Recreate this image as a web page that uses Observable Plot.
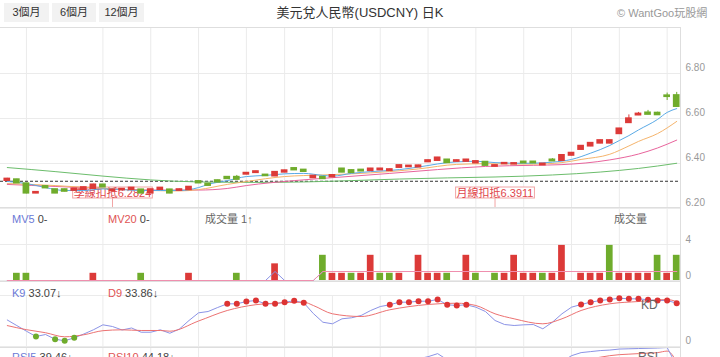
<!DOCTYPE html>
<html><head><meta charset="utf-8">
<script src="https://cdn.jsdelivr.net/npm/d3@7"></script>
<script src="https://cdn.jsdelivr.net/npm/@observablehq/plot@0.6"></script>
<style>
html,body{margin:0;padding:0;background:#fff;overflow:hidden;}
#wrap{position:relative;width:720px;height:357px;overflow:hidden;font-family:"Liberation Sans","Noto Sans CJK TC",sans-serif;}
.btn{position:absolute;top:3px;height:19px;line-height:19px;background:#f2f2f2;color:#333;font-size:11px;text-align:center;}
#title{position:absolute;top:5px;left:0;width:720px;text-align:center;font-size:13px;line-height:16px;color:#333;}
#copy{position:absolute;top:7px;left:617px;font-size:11px;line-height:13px;color:#999;}
.panel{position:absolute;left:0;}
.hl{position:absolute;left:0;width:681px;height:1px;background:#dedede;}
.vl{position:absolute;left:680px;width:1px;top:27px;height:330px;background:#dedede;}
.lbl{position:absolute;font-size:11px;line-height:14px;white-space:nowrap;color:#444;}
.blue{color:#6b79d6;} .red{color:#e05454;} .gray{color:#666;}
</style></head>
<body>
<div id="wrap">
  <div class="btn" style="left:4px;width:45px">3個月</div>
  <div class="btn" style="left:52px;width:44px">6個月</div>
  <div class="btn" style="left:99px;width:45px">12個月</div>
  <div id="title">美元兌人民幣(USDCNY) 日K</div>
  <div id="copy">© WantGoo玩股網</div>
  <div class="panel" id="pMain" style="top:27px"></div>
  <div class="panel" id="pVol" style="top:208px"></div>
  <div class="panel" id="pKD" style="top:281px"></div>
  <div class="panel" id="pRSI" style="top:347px"></div>
  <div class="hl" style="top:27px"></div>
  <div class="hl" style="top:207px"></div>
  <div class="hl" style="top:281px"></div>
  <div class="hl" style="top:347px"></div>
  <div class="vl"></div>
  <div class="lbl" style="left:12px;top:212px"><span class="blue">MV5</span> 0-</div>
  <div class="lbl" style="left:108px;top:212px"><span class="red">MV20</span> 0-</div>
  <div class="lbl gray" style="left:205px;top:212px">成交量 1↑</div>
  <div class="lbl gray" style="left:614px;top:212px">成交量</div>
  <div class="lbl" style="left:12px;top:286px"><span class="blue">K9</span> 33.07↓</div>
  <div class="lbl" style="left:108px;top:286px"><span class="red">D9</span> 33.86↓</div>
  <div class="lbl gray" style="left:641px;top:298px;font-size:12px">KD</div>
  <div class="lbl" style="left:12px;top:350px"><span class="blue">RSI5</span> 39.46↓</div>
  <div class="lbl" style="left:108px;top:350px"><span class="red">RSI10</span> 44.18↓</div>
  <div class="lbl gray" style="left:638px;top:350px;font-size:12px">RSI</div>
</div>
<script>
// ---------- data ----------
const opens  = [6.324,6.328,6.310,6.268,6.298,6.284,6.284,6.280,6.284,6.288,6.305,6.278,6.282,6.284,6.283,6.268,6.284,6.283,6.280,6.283,
                6.320,6.309,6.324,6.339,6.339,6.352,6.359,6.349,6.344,6.361,6.378,6.371,6.336,6.339,6.340,6.376,6.369,6.371,6.368,6.371,
                6.368,6.382,6.385,6.384,6.407,6.413,6.416,6.409,6.409,6.402,6.406,6.387,6.398,6.397,6.407,6.407,6.393,6.416,6.413,6.436,
                6.462,6.477,6.490,6.490,6.532,6.581,6.615,6.625,6.624,6.701,6.702];
const closes = [6.331,6.313,6.268,6.272,6.291,6.268,6.276,6.287,6.293,6.305,6.295,6.2824,6.286,6.291,6.268,6.284,6.291,6.268,6.284,6.295,
                6.313,6.302,6.317,6.332,6.329,6.357,6.364,6.345,6.361,6.368,6.371,6.364,6.344,6.332,6.347,6.361,6.359,6.366,6.376,6.376,
                6.373,6.391,6.389,6.390,6.413,6.425,6.403,6.413,6.416,6.409,6.391,6.3911,6.401,6.400,6.402,6.402,6.398,6.411,6.436,6.446,
                6.477,6.490,6.502,6.502,6.554,6.599,6.620,6.618,6.616,6.697,6.653];
const highs  = [6.334,6.330,6.312,6.274,6.300,6.286,6.286,6.289,6.295,6.308,6.307,6.285,6.288,6.293,6.285,6.286,6.293,6.285,6.286,6.297,
                6.322,6.311,6.326,6.341,6.347,6.359,6.366,6.351,6.363,6.370,6.380,6.373,6.346,6.341,6.349,6.378,6.371,6.373,6.378,6.378,
                6.375,6.393,6.391,6.392,6.415,6.427,6.418,6.415,6.418,6.411,6.408,6.393,6.403,6.402,6.409,6.409,6.400,6.422,6.438,6.448,
                6.479,6.492,6.504,6.504,6.556,6.616,6.627,6.636,6.628,6.713,6.716];
const lows   = [6.322,6.311,6.265,6.266,6.289,6.266,6.274,6.278,6.282,6.286,6.293,6.276,6.280,6.282,6.266,6.266,6.282,6.266,6.278,6.281,
                6.311,6.300,6.315,6.330,6.327,6.350,6.357,6.343,6.342,6.359,6.369,6.362,6.334,6.330,6.338,6.359,6.357,6.364,6.366,6.369,
                6.366,6.380,6.383,6.382,6.405,6.411,6.401,6.407,6.407,6.400,6.389,6.385,6.396,6.395,6.400,6.400,6.391,6.409,6.411,6.434,
                6.460,6.475,6.488,6.488,6.530,6.579,6.613,6.616,6.614,6.680,6.650];

const ma5  = [[0,6.320],[2,6.311],[4,6.293],[6,6.280],[8,6.280],[10,6.287],[12,6.284],[14,6.280],[16,6.280],[18,6.280],[20,6.293],[21,6.307],
              [23,6.324],[25,6.342],[27,6.347],[29,6.354],[31,6.356],[33,6.347],[34,6.344],[36,6.356],[38,6.364],[40,6.369],[42,6.378],
              [44,6.391],[46,6.404],[48,6.409],[49,6.410],[51,6.404],[54,6.401],[56,6.403],[57,6.406],[59,6.418],[61,6.446],[63,6.480],
              [64,6.502],[65,6.524],[66,6.549],[68,6.596],[69,6.627],[70,6.644]];
const ma10 = [[0,6.311],[5,6.302],[10,6.289],[15,6.280],[18,6.278],[20,6.284],[23,6.307],[25,6.320],[29,6.342],[33,6.349],[36,6.354],
              [40,6.364],[43,6.376],[47,6.396],[50,6.399],[55,6.397],[58,6.404],[60,6.418],[63,6.441],[65,6.478],[66,6.498],[68,6.533],[70,6.587]];
const ma20 = [[0,6.307],[5,6.298],[10,6.289],[15,6.282],[20,6.282],[23,6.289],[25,6.302],[30,6.324],[35,6.340],[40,6.356],[45,6.373],
              [50,6.387],[55,6.392],[58,6.395],[63,6.416],[66,6.442],[68,6.469],[70,6.504]];
const ma60 = [[0,6.382],[5,6.364],[10,6.344],[15,6.327],[20,6.318],[26,6.316],[31,6.318],[36,6.324],[41,6.331],[46,6.336],[51,6.340],
              [57,6.349],[62,6.362],[66,6.378],[70,6.401]];
const refPrice = 6.321;
const annoIdx = [11, 51];
const annoText = ["季線扣抵6.2824", "月線扣抵6.3911"];
const priceTicks = [6.2, 6.4, 6.6, 6.8];
const gridIdx = [2, 10, 15, 20, 25, 29, 34, 39, 44, 49, 54, 59, 64, 69];

const volIdx = [1,2,9,14,19,24,28,33,34,35,36,37,38,39,40,41,43,44,45,46,48,49,51,52,53,54,55,56,57,58,60,61,62,63,64,65,66,67,68,69,70];
const volVal = [0.8,0.8,0.8,0.8,0.8,0.8,1.85,2.8,0.8,0.8,0.8,0.8,2.8,0.8,0.8,0.8,2.8,0.8,0.8,0.8,2.8,0.8,0.8,0.8,2.8,0.8,0.8,0.8,0.8,3.9,
                0.8,0.8,0.8,3.9,0.8,0.8,0.8,0.8,2.8,0.8,2.8];
const volDir = ["g","g","r","g","r","g","r","g","r","r","g","r","r","g","g","r","r","r","r","g","r","g","g","r","r","r","r","g","r","r",
                "r","r","r","g","r","r","r","r","g","r","g"];
const mv5  = [[0,0],[27,0],[28,1],[29,0],[32,0],[33,1],[70,1]];
const mv20 = [[0,0],[32,0],[33,1],[70,1]];
const volTicks = [0, 4];

const kVals = [52,41,30,19.6,23.5,14.3,11.2,17,24.5,32.7,42.5,39.2,32.4,36.3,28,28,32.7,26,34.3,51,
               66,68.6,76.5,83.7,83.7,88.2,90.2,83.7,83.7,86.9,89.6,85.7,64.7,47.6,44.5,54.3,56.3,60.8,70.6,78.4,
               81.8,86.9,86.9,88.8,88.8,92.2,81.8,80.4,81.8,77.1,68.6,51,43.1,41.2,42.5,43.1,34.7,47.6,64.1,77.1,
               82.4,86.9,90.2,92.2,94.7,93.5,93.5,91.6,90.2,90.2,84.9];
const dPts = [[0,41],[2,33],[4,27],[6,19],[8,23],[10,31],[12,32.7],[14,31.4],[16,31.4],[17,30],[20,50],[23,70.6],[26,82],[28,84.9],
              [31,86.9],[32,80.4],[34,64.1],[37,58.8],[40,72],[44,82.4],[47,84.9],[49,80.4],[51,64.1],[53,54.3],[56,44.5],[58,54.3],
              [60,70.6],[63,83.7],[66,88.2],[69,92],[70,88]];
const rsi5  = [[0,45],[5,30],[10,50],[15,40],[20,62],[25,72],[30,70],[35,55],[40,72],[43,76],[44,80],[45,86],[46,74],[50,55],[55,50],
               [58,70],[59,82],[60,88],[61,90],[62,92],[63,93],[64,95],[65,95.5],[66,96],[67,96.5],[68,97],[69,98],[70,62]];
const rsi10 = [[0,48],[10,45],[20,55],[30,65],[40,66],[45,72],[50,60],[55,55],[58,62],[60,72],[61,76],[62,79],[63,82],[64,84],[65,85],
               [66,86],[67,87],[68,88],[69,91],[70,70]];

// ---------- style ----------
const RED = "#dc3a38", GREEN = "#6fac2c", GRID = "#ebebeb";
const C_MA5 = "#5aaae6", C_MA10 = "#f5b46c", C_MA20 = "#e8649c", C_MA60 = "#6cbd6c";
const C_K = "#8b93e6", C_D = "#ec7272";

const candles = opens.map((o, i) => ({i, o, c: closes[i], h: highs[i], l: lows[i]}));
const vols = volIdx.map((i, k) => ({i, v: volVal[k], d: volDir[k]}));
const kd = kVals.map((k, i) => ({i, k}));
const annos = annoIdx.map((i, k) => ({i, label: annoText[k]}));
const HW = 0.35;

const common = {
  width: 720, marginLeft: 0, marginRight: 39,
  x: {domain: [-0.71, 70.5], axis: null},
  color: {type: "identity"},
  style: {fontFamily: "Liberation Sans, Noto Sans CJK TC, sans-serif", fontSize: "10px", background: "transparent", overflow: "visible"}
};
const rightLabels = (ticks, fmt, dy) => Plot.text(ticks, {y: d => d, text: fmt, frameAnchor: "right", textAnchor: "start", dx: 4, dy, fill: "#999", fontSize: 10});
const ln = (data, stroke, curve) => Plot.line(data, {x: d => d[0], y: d => d[1], stroke, strokeWidth: 1, curve: curve || "linear"});

const main = Plot.plot({
  ...common, height: 181, marginTop: 0, marginBottom: 0,
  y: {domain: [6.2, 7.0044], axis: null},
  marks: [
    Plot.ruleY(priceTicks, {stroke: GRID}),
    Plot.ruleX(gridIdx, {stroke: GRID}),
    rightLabels(priceTicks, d => d.toFixed(2), -6),
    Plot.text(annos, {x: "i", text: "label", frameAnchor: "bottom", dy: -11.5, fill: "#e0464b", fontSize: 11}),
    Plot.ruleY([refPrice], {stroke: "#333", strokeDasharray: "3,2"}),
    ln(ma60, C_MA60, "monotone-x"),
    ln(ma20, C_MA20, "monotone-x"),
    ln(ma10, C_MA10, "monotone-x"),
    ln(ma5, C_MA5, "monotone-x"),
    Plot.ruleX(candles, {x: "i", y1: "l", y2: "h", stroke: d => d.c >= d.o ? RED : GREEN}),
    Plot.rect(candles, {x1: d => d.i - HW, x2: d => d.i + HW, y1: d => Math.min(d.o, d.c), y2: d => Math.max(d.o, d.c),
                        insetTop: -0.9, insetBottom: -0.9, fill: d => d.c >= d.o ? RED : GREEN})
  ]
});

const vol = Plot.plot({
  ...common, height: 73, marginTop: 0, marginBottom: 1,
  y: {domain: [0, 8], axis: null},
  marks: [
    Plot.ruleY(volTicks, {stroke: GRID}),
    Plot.ruleX(gridIdx, {stroke: GRID}),
    rightLabels(volTicks, d => String(d), -5),
    Plot.rect(vols, {x1: d => d.i - HW, x2: d => d.i + HW, y1: 0, y2: "v", fill: d => d.d === "r" ? RED : GREEN}),
    ln(mv5, "#8b93e6"),
    ln(mv20, "#ef8fae")
  ]
});

const kdPlot = Plot.plot({
  ...common, height: 66, marginTop: 14, marginBottom: 1,
  y: {domain: [0, 100], axis: null},
  marks: [
    Plot.ruleY([0, 100], {stroke: GRID}),
    Plot.ruleX(gridIdx, {stroke: GRID}),
    rightLabels([0], d => String(d), -6),
    Plot.line(kd, {x: "i", y: "k", stroke: C_K, strokeWidth: 1}),
    ln(dPts, C_D, "monotone-x"),
    Plot.dot(kd.filter(d => d.k > 80), {x: "i", y: "k", r: 3, fill: "#dd3333"}),
    Plot.dot(kd.filter(d => d.k < 20), {x: "i", y: "k", r: 3, fill: "#6fac2c"})
  ]
});

const rsiPlot = Plot.plot({
  ...common, height: 60, marginTop: 0, marginBottom: 0,
  y: {domain: [0, 100], range: [50, -1], axis: null},
  marks: [
    Plot.ruleX(gridIdx, {stroke: GRID}),
    ln(rsi10, C_D, "monotone-x"),
    ln(rsi5, C_K)
  ]
});

document.getElementById("pMain").appendChild(main);
document.getElementById("pVol").appendChild(vol);
document.getElementById("pKD").appendChild(kdPlot);
document.getElementById("pRSI").appendChild(rsiPlot);

// boxes behind the deduction labels
(function boxes(svg) {
  const ns = "http://www.w3.org/2000/svg";
  const sr = svg.getBoundingClientRect();
  svg.querySelectorAll("text").forEach(t => {
    if (!t.textContent.includes("扣抵")) return;
    const r = t.getBoundingClientRect();
    let g = t; while (g.parentNode && g.parentNode !== svg) g = g.parentNode;
    const x = r.left - sr.left - 1, w = r.width + 2, cy = r.top - sr.top + r.height / 2;
    const rect = document.createElementNS(ns, "rect");
    rect.setAttribute("x", x); rect.setAttribute("y", cy - 5.5);
    rect.setAttribute("width", w); rect.setAttribute("height", 11);
    rect.setAttribute("fill", "#fff"); rect.setAttribute("stroke", "#f2a5a5");
    const line = document.createElementNS(ns, "line");
    line.setAttribute("x1", x + w / 2); line.setAttribute("x2", x + w / 2);
    line.setAttribute("y1", cy + 5.5); line.setAttribute("y2", 181);
    line.setAttribute("stroke", "#f2a5a5");
    svg.insertBefore(rect, g); svg.insertBefore(line, g);
  });
})(main);
</script>
</body></html>
